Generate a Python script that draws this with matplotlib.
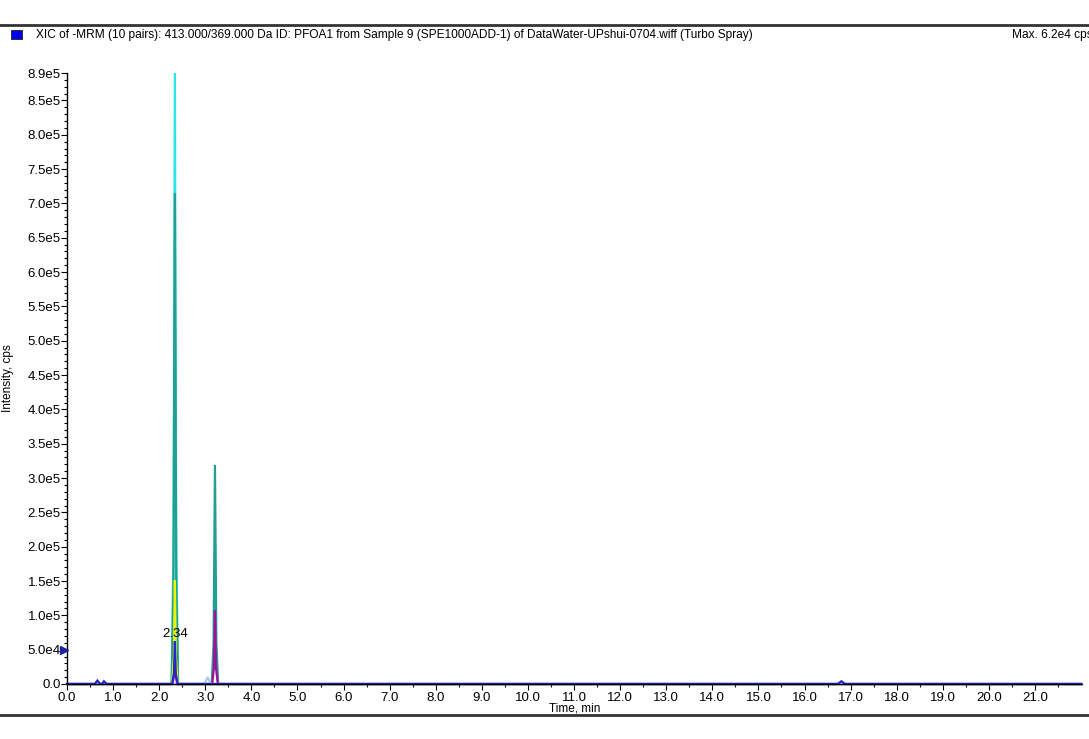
import matplotlib
matplotlib.use("Agg")
import matplotlib.pyplot as plt
from matplotlib.lines import Line2D
from matplotlib.patches import Rectangle
import numpy as np

plt.rcParams['font.family'] = ['Liberation Sans', 'DejaVu Sans']

title = "XIC of -MRM (10 pairs): 413.000/369.000 Da ID: PFOA1 from Sample 9 (SPE1000ADD-1) of DataWater-UPshui-0704.wiff (Turbo Spray)"
max_text = "Max. 6.2e4 cps"

# traces: (time, intensity) pairs
cyan_t = [0.0, 2.27, 2.31, 2.34, 2.37, 2.41, 22.0]
cyan_i = [0, 0, 2.0e5, 8.9e5, 2.0e5, 0, 0]

teal_t = [0.0, 2.27, 2.31, 2.34, 2.37, 2.41, 3.14, 3.18, 3.21, 3.24, 3.28, 22.0]
teal_i = [0, 0, 1.5e5, 7.15e5, 1.5e5, 0, 0, 6.0e4, 3.19e5, 6.0e4, 0, 0]

yellow_t = [0.0, 2.28, 2.32, 2.34, 2.36, 2.40, 22.0]
yellow_i = [0, 0, 4.0e4, 1.51e5, 4.0e4, 0, 0]

magenta_t = [0.0, 2.29, 2.34, 2.39, 3.15, 3.19, 3.21, 3.23, 3.27, 22.0]
magenta_i = [0, 0, 2.0e4, 0, 0, 2.5e4, 1.07e5, 2.5e4, 0, 0]

lightblue_t = [0.0, 2.98, 3.05, 3.12, 22.0]
lightblue_i = [0, 0, 1.0e4, 0, 0]

blue_t = [0.0, 0.60, 0.66, 0.72, 0.76, 0.80, 0.86, 2.28, 2.32, 2.34, 2.36, 2.40,
          16.72, 16.80, 16.88, 22.0]
blue_i = [0, 0, 5.0e3, 0, 0, 4.0e3, 0, 0, 1.5e4, 6.2e4, 1.5e4, 0,
          0, 4.0e3, 0, 0]

traces = [
    (cyan_t, cyan_i, '#2ce6e6'),
    (teal_t, teal_i, '#229e92'),
    (yellow_t, yellow_i, '#f2f200'),
    (magenta_t, magenta_i, '#a0109a'),
    (lightblue_t, lightblue_i, '#a8c8f0'),
    (blue_t, blue_i, '#2424d0'),
]

peak_label = "2.34"
peak_rt = 2.34
peak_label_y = 7.3e4

x_ticks = np.arange(0, 22, 1.0)
y_ticks = list(np.arange(0, 8.6e5, 5e4)) + [8.9e5]


def fmt_y(v):
    if v == 0:
        return "0.0"
    e = int(np.floor(np.log10(v)))
    return f"{v / 10**e:.1f}e{e}"


fig = plt.figure(figsize=(10.89, 7.39), dpi=100)
ax = fig.add_axes([67 / 1089, 55 / 739, (1082 - 67) / 1089, (684 - 73) / 739])

for t, i, c in traces:
    ax.plot(t, i, '-', color=c, linewidth=1.6, solid_joinstyle='miter', clip_on=False)

ax.text(peak_rt, peak_label_y, peak_label, ha='center', va='center', fontsize=9.5)
ax.plot([-0.07], [5e4], marker='>', color='#1f1fa0', markersize=6, clip_on=False, zorder=5)

ax.set_xlim(0, 22.02)
ax.set_ylim(0, 8.9e5)
ax.set_xticks(x_ticks)
ax.set_xticklabels([f"{v:.1f}" for v in x_ticks], fontsize=9.5)
ax.set_xticks(np.arange(0.5, 22, 1.0), minor=True)
ax.set_yticks(y_ticks)
ax.set_yticklabels([fmt_y(v) for v in y_ticks], fontsize=9.5)
ax.set_yticks(np.arange(0, 8.9e5, 1e4), minor=True)
ax.tick_params(which='major', length=4, width=0.8)
ax.tick_params(which='minor', length=2, width=0.8)
ax.tick_params(axis='y', which='major', pad=0.5)
ax.tick_params(axis='x', which='major', pad=1.5)
for s in ['top', 'right']:
    ax.spines[s].set_visible(False)
ax.spines['left'].set_linewidth(1.0)
ax.spines['bottom'].set_linewidth(1.0)

ax.set_xlabel("Time, min", fontsize=8.5, labelpad=-1)
fig.text(8 / 1089, 1 - 378 / 739, "Intensity, cps", rotation=90, fontsize=8.5,
         ha='center', va='center')

# header and footer rules
fig.add_artist(Line2D([0, 1], [1 - 25 / 739, 1 - 25 / 739], color='#333333', linewidth=2))
fig.add_artist(Line2D([0, 1], [1 - 715 / 739, 1 - 715 / 739], color='#333333', linewidth=2))
fig.add_artist(Rectangle((11 / 1089, 1 - 39 / 739), 11 / 1089, 9 / 739,
                         facecolor='#0000ee', edgecolor='#222222', linewidth=0.6))
fig.text(36 / 1089, 1 - 35 / 739, title, fontsize=8.6, va='center', ha='left')
fig.text(1012 / 1089, 1 - 35 / 739, max_text, fontsize=8.6, va='center', ha='left')

fig.savefig('out.png', dpi=100)
